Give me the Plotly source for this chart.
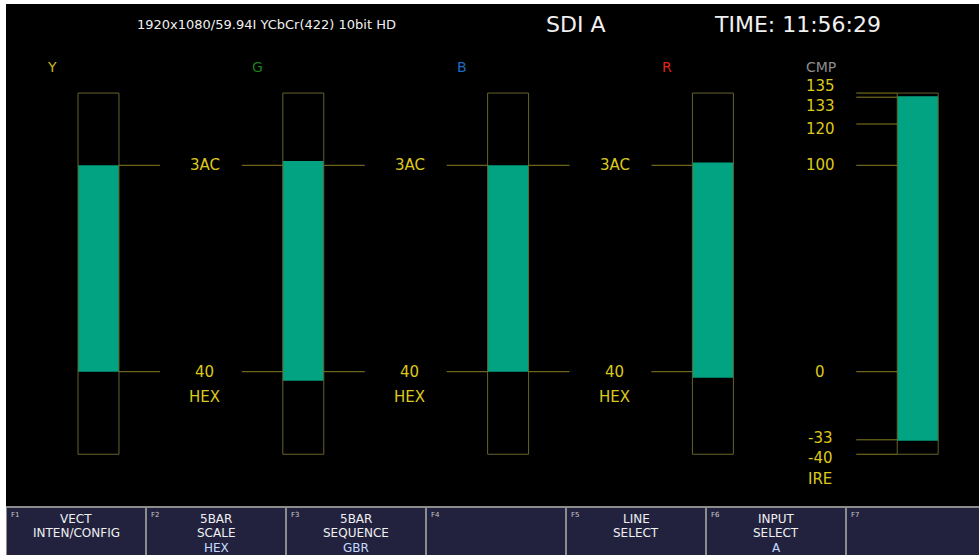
import plotly.graph_objects as go

# channel bars (values in IRE, 0 = "40" hex, 100 = "3AC" hex)
channels = ["Y", "G", "B", "R", "CMP"]
channel_colors = ["#c9b51c", "#1f7d1f", "#1f6cc4", "#e0241a", "#8c8c8c"]
bar_top = [100.0, 102.1, 100.0, 101.3, 133.5]
bar_bottom = [0.0, -4.4, 0.0, -2.9, -33.4]
scale_min = -40
scale_max = 135

# hex scale labels between the component bars
hex_ticks = [100, 0]
hex_labels = ["3AC", "40"]
hex_unit = "HEX"

# composite (IRE) scale
cmp_ticks = [135, 133, 120, 100, 0, -33, -40]
cmp_labels = ["135", "133", "120", "100", "0", "-33", "-40"]
cmp_unit = "IRE"

header_format = "1920x1080/59.94I YCbCr(422) 10bit HD"
header_input = "SDI A"
header_time = "TIME: 11:56:29"

key_ids = ["F1", "F2", "F3", "F4", "F5", "F6", "F7"]
key_line1 = ["VECT", "5BAR", "5BAR", "", "LINE", "INPUT", ""]
key_line2 = ["INTEN/CONFIG", "SCALE", "SEQUENCE", "", "SELECT", "SELECT", ""]
key_line3 = ["", "HEX", "GBR", "", "", "A", ""]

FONT = "DejaVu Sans"
FILL = "#02a383"
FRAME = "#66632a"
TICK = "#857d22"
LABEL = "#dcc81c"
OX, OY = 6, 4  # white strip left / top, as in the screen grab
W, H = 979 - OX, 555 - OY


def pxx(x):
    return (x - OX) / W


def pxy(y):
    return (H - (y - OY)) / H


idx = list(range(len(channels)))

fig = go.Figure()

# filled level bars
fig.add_trace(go.Bar(
    x=idx,
    y=[t - b for t, b in zip(bar_top, bar_bottom)],
    base=bar_bottom,
    width=0.2,
    marker=dict(color=FILL, line=dict(width=0)),
    hoverinfo="skip",
))

# outline frames of the full scale
fig.add_trace(go.Bar(
    x=idx,
    y=[scale_max - scale_min] * len(idx),
    base=[scale_min] * len(idx),
    width=0.2,
    marker=dict(color="rgba(0,0,0,0)", line=dict(color=FRAME, width=1)),
    hoverinfo="skip",
))

shapes = []
annotations = []

# hex ticks and labels between component bars
for i in idx[:3]:
    for v, lab in zip(hex_ticks, hex_labels):
        shapes.append(dict(type="line", x0=i + 0.1, x1=i + 0.3, y0=v, y1=v,
                           line=dict(color=TICK, width=1)))
        shapes.append(dict(type="line", x0=i + 0.7, x1=i + 0.9, y0=v, y1=v,
                           line=dict(color=TICK, width=1)))
        annotations.append(dict(x=i + 0.5, y=v, text=lab, xshift=4,
                                font=dict(color=LABEL, size=15)))
    annotations.append(dict(x=i + 0.5, y=hex_ticks[-1], text=hex_unit, xshift=4, yshift=-25,
                            font=dict(color=LABEL, size=15)))

# composite ticks
cmp_i = idx[-1]
cmp_shift = [7, -9, -5, 0, 0, 2, -4]
for v, lab, s in zip(cmp_ticks, cmp_labels, cmp_shift):
    shapes.append(dict(type="line", x0=cmp_i - 0.3, x1=cmp_i - 0.1, y0=v, y1=v,
                       line=dict(color=TICK, width=1)))
    annotations.append(dict(x=cmp_i - 0.476, y=v, text=lab, yshift=s,
                            font=dict(color=LABEL, size=15)))
annotations.append(dict(x=cmp_i - 0.476, y=cmp_ticks[-1], text=cmp_unit, yshift=-25,
                        font=dict(color=LABEL, size=15)))

# channel names
for i, (name, col) in enumerate(zip(channels, channel_colors)):
    xi = i - 0.225 if name != "CMP" else cmp_i - 0.471
    annotations.append(dict(x=xi, y=pxy(67), yref="paper", text=name,
                            font=dict(color=col, size=14)))

# header
annotations += [
    dict(x=pxx(266), y=pxy(25), xref="paper", yref="paper", text=header_format,
         font=dict(color="#f0f0f0", size=13)),
    dict(x=pxx(575), y=pxy(25), xref="paper", yref="paper", text=header_input,
         font=dict(color="#f0f0f0", size=22)),
    dict(x=pxx(797), y=pxy(25), xref="paper", yref="paper", text=header_time,
         font=dict(color="#f0f0f0", size=22)),
]

# function keys
for k, kid in enumerate(key_ids):
    x0 = 6 + 140 * k
    x1 = x0 + 140
    shapes.append(dict(type="rect", xref="paper", yref="paper",
                       x0=pxx(x0), x1=pxx(x1), y0=pxy(558), y1=pxy(507),
                       fillcolor="#22223f", line=dict(color="#8c8c8c", width=2)))
    annotations.append(dict(x=pxx(x0 + 3), y=pxy(509), xref="paper", yref="paper",
                            text=kid, xanchor="left", yanchor="top",
                            font=dict(color="#c8c8c8", size=7)))
    cx = pxx(x0 + 70)
    for txt, yy, col in [(key_line1[k], 519, "#f0f0f0"), (key_line2[k], 533, "#f0f0f0"),
                         (key_line3[k], 548, "#c4dcff")]:
        if txt:
            annotations.append(dict(x=cx, y=pxy(yy), xref="paper", yref="paper", text=txt,
                                    font=dict(color=col, size=12)))

for a in annotations:
    a.setdefault("showarrow", False)
    a.setdefault("xanchor", "center")
    a.setdefault("yanchor", "middle")

ax = dict(showgrid=False, zeroline=False, showticklabels=False, showline=False,
          fixedrange=True)

fig.update_layout(
    width=W,
    height=H,
    margin=dict(l=0, r=0, t=0, b=0, pad=0),
    paper_bgcolor="#000000",
    plot_bgcolor="#000000",
    barmode="overlay",
    showlegend=False,
    font=dict(family=FONT),
    xaxis=dict(range=[(OX - 98.5) / 204.8, (979 - 98.5) / 204.8], **ax),
    yaxis=dict(range=[(371.7 - 555) / 2.064, (371.7 - OY) / 2.064], **ax),
    shapes=shapes,
    annotations=annotations,
)

fig.write_html(
    "out.html",
    config={"displayModeBar": False},
    post_script="document.body.style.margin='%dpx 0 0 %dpx';document.body.style.overflow='hidden';" % (OY, OX),
)
